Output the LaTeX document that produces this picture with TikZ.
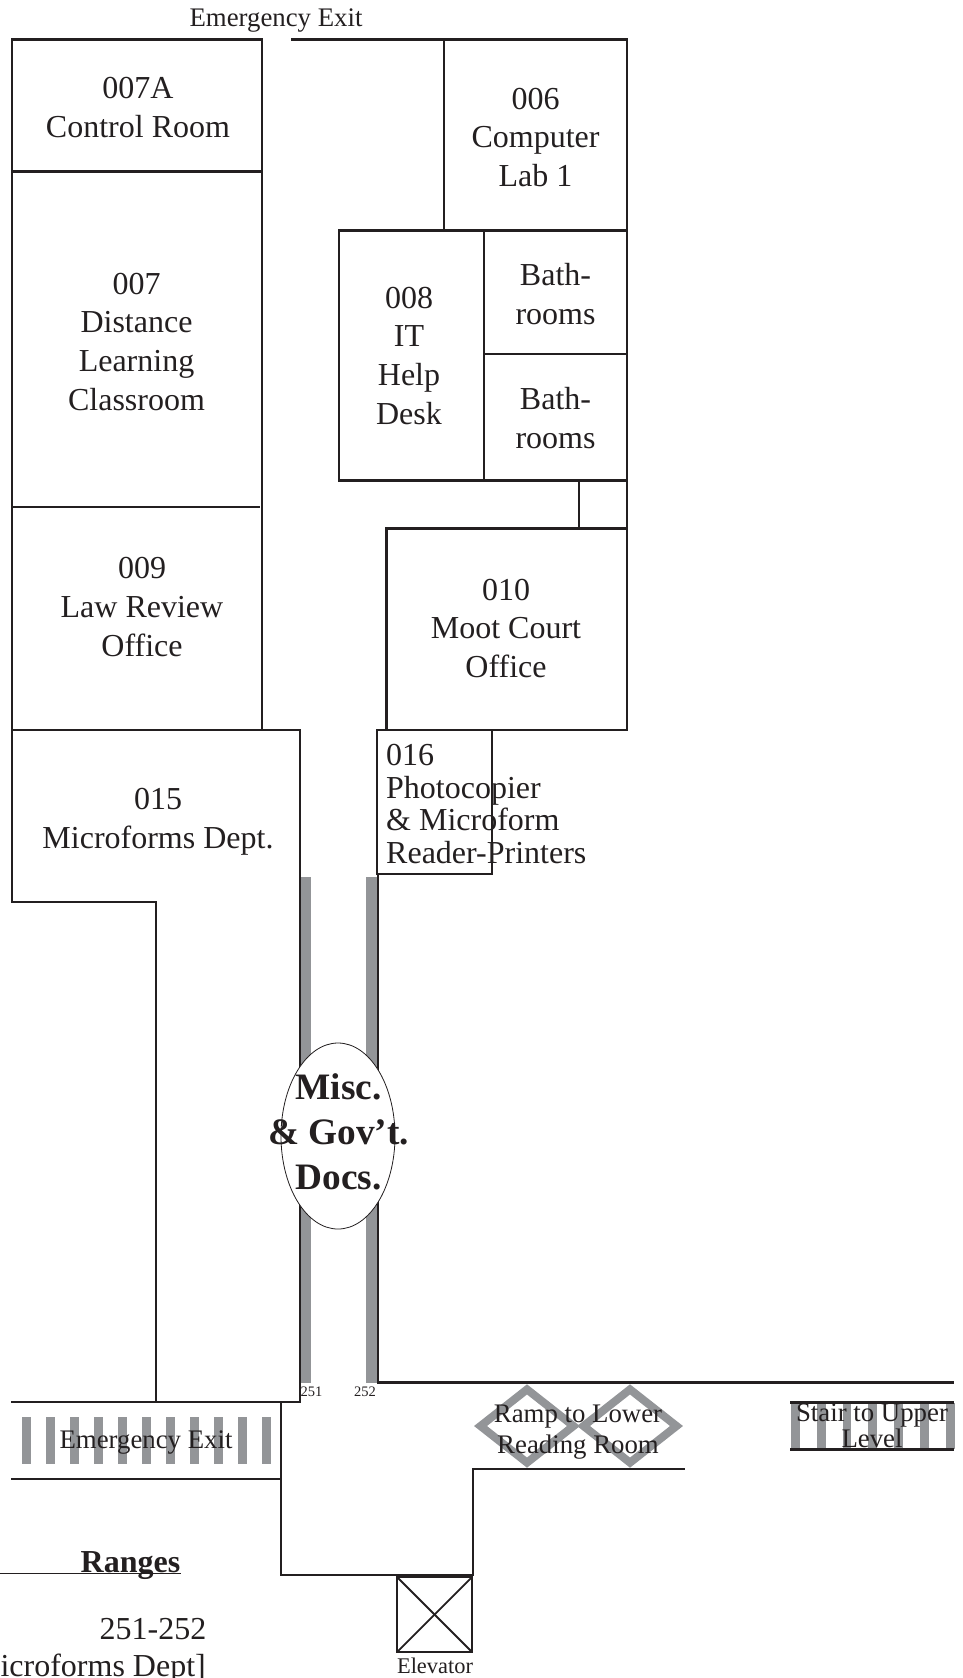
\documentclass[tikz,border=0pt]{standalone}
\usepackage{fontspec}
\setmainfont{Liberation Serif}
\usepackage{xcolor}
\definecolor{wallink}{HTML}{231F20}
\definecolor{rangegray}{HTML}{939598}
\begin{document}
\begin{tikzpicture}[
    x=1pt, y=-1pt,
    wall/.style={draw=wallink, line width=2.5pt, line cap=rect},
    rangebar/.style={fill=rangegray, draw=none},
    ramp/.style={draw=rangegray, line width=8pt, line join=miter},
    room/.style={
        inner sep=0pt,
        anchor=base,
        align=center,
        text=wallink,
        font=\fontsize{32}{38.6}\selectfont
    },
    small/.style={
        inner sep=0pt,
        anchor=base,
        align=center,
        text=wallink,
        font=\fontsize{26.8}{31}\selectfont
    }
]
    \useasboundingbox (0,0) rectangle (962,1678);

    % Range shelves
    \fill[rangebar] (299.5,877) rectangle (311,1383);
    \fill[rangebar] (366,877) rectangle (378,1383);

    % Stairs
    \foreach \i in {0,...,10}
        \fill[rangebar] ({21.7+24.07*\i},1417) rectangle ({30.7+24.07*\i},1464);
    \foreach \i in {0,...,6}
        \fill[rangebar] ({791+25.8*\i},1403) rectangle ({799.7+25.8*\i},1449);

    % Ramp
    \draw[ramp] (480.5,1426) -- (527,1389.4) -- (573.5,1426) -- (527,1462.6) -- cycle;
    \draw[ramp] (583.5,1426) -- (630,1389.4) -- (676.5,1426) -- (630,1462.6) -- cycle;

    % Left rooms
    \draw[wall] (12,730) -- (12,39.5) -- (262,39.5) -- (262,730);
    \draw[wall] (12,171.5) -- (262,171.5);
    \draw[wall] (12,507) -- (259,507);

    % Right rooms
    \draw[wall] (292,39.5) -- (627,39.5) -- (627,730);
    \draw[wall] (444,39.5) -- (444,230.5);
    \draw[wall] (339,230.5) -- (627,230.5);
    \draw[wall] (339,230.5) -- (339,480.5) -- (627,480.5);
    \draw[wall] (484,230.5) -- (484,480.5);
    \draw[wall] (484,354) -- (627,354);
    \draw[wall] (579,480.5) -- (579,528.5);
    \draw[wall] (386.5,730) -- (386.5,528.5) -- (627,528.5);

    % Microforms
    \draw[wall] (12,730) -- (300,730) -- (300,1402) -- (12,1402);
    \draw[wall] (12,730) -- (12,902) -- (156,902) -- (156,1402);
    \draw[wall] (377,874) -- (377,730) -- (627,730);
    \draw[wall] (377,874) -- (492,874) -- (492,730);

    % Corridors
    \draw[wall] (378,874) -- (378,1382.5) -- (953,1382.5);
    \draw[wall] (281,1402) -- (281,1575) -- (473,1575) -- (473,1469) -- (684,1469);
    \draw[wall] (12,1479) -- (281,1479);
    \draw[wall] (791,1402.5) -- (953,1402.5);
    \draw[wall] (791,1449.5) -- (953,1449.5);
    \draw[wall, line width=1.8pt] (0,1573.5) -- (180,1573.5);

    % Elevator
    \coordinate (e1) at (397,1577);
    \coordinate (e2) at (472,1652);
    \draw[wall] (e1) rectangle (e2);
    \draw[wall, line width=1.8pt, line cap=butt] (e1) -- (e2);
    \draw[wall, line width=1.8pt, line cap=butt] (e1 -| e2) -- (e1 |- e2);

    % Room labels
    \node[small] (exittop) at (276,27) {Emergency Exit};
    \node[room] (ctrl) at (138,137) {007A\\Control Room};
    \node[room] (lab) at (535.5,186.5) {006\\Computer\\Lab 1};
    \node[room] (distance) at (136.5,410) {007\\Distance\\Learning\\Classroom};
    \node[room] (help) at (409,424) {008\\IT\\Help\\Desk};
    \node[room] (bathup) at (555.5,324) {Bath-\\rooms};
    \node[room] (bathlow) at (555.5,448) {Bath-\\rooms};
    \node[room] (lawrev) at (142,656) {009\\Law Review\\Office};
    \node[room] (moot) at (506,677.5) {010\\Moot Court\\Office};
    \node[room] (micro) at (158,848) {015\\Microforms Dept.};
    \node[room, align=left, anchor=base west, font=\fontsize{32}{32.5}\selectfont] (copier) at (386,863)
        {016\\Photocopier\\\& Microform\\Reader-Printers};

    % Misc. oval
    \draw[draw=wallink, fill=white, line width=0.8pt] (338,1136) ellipse (57 and 93);
    \node[room, font=\fontsize{37.3}{45}\selectfont\bfseries] (misc) at (338.5,1189.5) {Misc.\\\& Gov’t.\\Docs.};

    % Lower labels
    \node[small, font=\fontsize{14.5}{16}\selectfont] (r251) at (311.5,1396) {251};
    \node[small, font=\fontsize{14.5}{16}\selectfont] (r252) at (365,1396) {252};
    \node[small] (exitlow) at (146,1448.5) {Emergency Exit};
    \node[small] (rampto) at (578,1453) {Ramp to Lower\\Reading Room};
    \node[small, font=\fontsize{26.8}{24}\selectfont] (stair) at (872,1447) {Stair to Upper\\Level};
    \node[room, font=\fontsize{32}{38}\selectfont\bfseries] (ranges) at (130.5,1572) {Ranges};
    \node[room, anchor=base east] (nums) at (206.5,1639) {251-252};
    \node[room, anchor=base east] (dept) at (206,1676) {icroforms Dept]};
    \node[small, font=\fontsize{22.4}{26}\selectfont] (elev) at (435,1673) {Elevator};
\end{tikzpicture}
\end{document}
